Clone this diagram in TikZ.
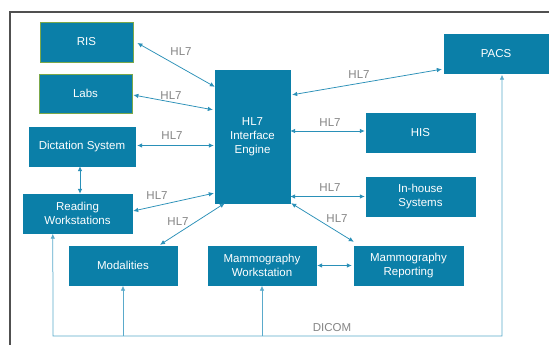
\documentclass[tikz,border=0pt]{standalone}
\usepackage{fontspec}
\setmainfont{Liberation Sans}
\usetikzlibrary{arrows.meta,calc}
\definecolor{boxc}{HTML}{0B7FA8}
\definecolor{linec}{HTML}{2A90B8}
\definecolor{dicomc}{HTML}{5AAACB}
\definecolor{lblc}{HTML}{858585}
\definecolor{greenb}{HTML}{7BA84A}
\definecolor{framec}{HTML}{505050}
\begin{document}
\begin{tikzpicture}[x=1pt,y=-1pt,
  box/.style={fill=boxc, draw=boxc, text=white, font=\fontsize{11.5}{14.2}\selectfont, align=center, inner sep=0pt},
  gbox/.style={box, draw=greenb, line width=0.8pt},
  lbl/.style={text=lblc, font=\fontsize{11.5}{13}\selectfont, inner sep=0pt},
  arr/.style={draw=linec, line width=0.75pt, {Latex[length=5pt,width=4.5pt]}-{Latex[length=5pt,width=4.5pt]}},
  dl/.style={draw=dicomc, line width=0.75pt},
  tip/.style={-{Latex[length=5pt,width=4.5pt]}}
]
\fill[white] (0,0) rectangle (549,345);
\useasboundingbox (0,0) rectangle (549,345);
\draw[framec, line width=1.3pt] (10,345) -- (10,12) -- (549,12);

\node[gbox, minimum width=93pt, minimum height=40pt] (ris) at (86.5,42) {RIS};
\node[gbox, minimum width=93pt, minimum height=39pt] (labs) at (85.5,93.5) {Labs};
\node[box, minimum width=106pt, minimum height=39pt] (dict) at (82,146.5) {Dictation System};
\node[box, minimum width=75pt, minimum height=133pt] (eng) at (252.5,136.5) {HL7\\Interface\\Engine};
\node[box, minimum width=104pt, minimum height=39pt] (pacs) at (496,53.5) {PACS};
\node[box, minimum width=109pt, minimum height=39pt] (his) at (420.5,132.5) {HIS};
\node[box, minimum width=109pt, minimum height=39pt] (inh) at (420.5,196.5) {In-house\\Systems};
\node[box, minimum width=109pt, minimum height=39pt] (read) at (77.5,213.5) {Reading\\Workstations};
\node[box, minimum width=108pt, minimum height=39pt] (mod) at (123,265.5) {Modalities};
\node[box, minimum width=108pt, minimum height=39pt] (mws) at (262,265.5) {Mammography\\Workstation};
\node[box, minimum width=109pt, minimum height=39pt] (mrep) at (408.5,265.5) {Mammography\\Reporting};

\draw[arr] ($(ris.east)+(4,1)$) -- ($(eng.north west)+(0,17)$);
\draw[arr] ($(labs.east)+(1,1.5)$) -- ($(eng.north west)+(-2,40)$);
\draw[arr] ($(dict.east)+(2,-1)$) -- ($(eng.west |- dict.east)+(-1,-1)$);
\draw[arr] ($(eng.north east)+(2,25)$) -- ($(pacs.south west)+(-2,-4)$);
\draw[arr] ($(eng.east |- his.west)+(0,-1.5)$) -- ($(his.west)+(-1,-1.5)$);
\draw[arr] (eng.east |- inh.west) -- ($(inh.west)+(-1,0)$);
\draw[arr] ($(eng.south east)+(1,0)$) -- ($(mrep.north west)+(0,-4)$);
\draw[arr] ($(mws.east)+(1,0)$) -- ($(mrep.west)+(-2,0)$);
\draw[arr] ($(read.east)+(1,-2.5)$) -- ($(eng.south west)+(-1,-10)$);
\draw[arr] ($(mod.north)+(37,-1)$) -- ($(eng.south west)+(10,0)$);
\draw[arr] ($(dict.south)+(-2,0)$) -- ($(read.north)+(2.5,0)$);

\node[lbl] (l1) at (181,52) {HL7};
\node[lbl] (l2) at (171,96) {HL7};
\node[lbl] (l3) at (172,136) {HL7};
\node[lbl] (l4) at (359,75) {HL7};
\node[lbl] (l5) at (330,123) {HL7};
\node[lbl] (l6) at (330,188) {HL7};
\node[lbl] (l7) at (337,219) {HL7};
\node[lbl] (l8) at (157,196) {HL7};
\node[lbl] (l9) at (178,222) {HL7};

\coordinate (bl) at (53,336);
\coordinate (br) at (502,336);
\draw[dl, {Latex[length=5pt,width=4.5pt]}-{Latex[length=5pt,width=4.5pt]}] ($(read.south west)+(30,0.5)$) -- (bl) -- (br) -- ($(pacs.south)+(6,1.5)$);
\draw[dl, tip] (mod.south |- bl) -- ($(mod.south)+(0,0.5)$);
\draw[dl, tip] (mws.south |- bl) -- ($(mws.south)+(0,0.5)$);
\node[lbl] (dicom) at (332,328) {DICOM};
\end{tikzpicture}
\end{document}
